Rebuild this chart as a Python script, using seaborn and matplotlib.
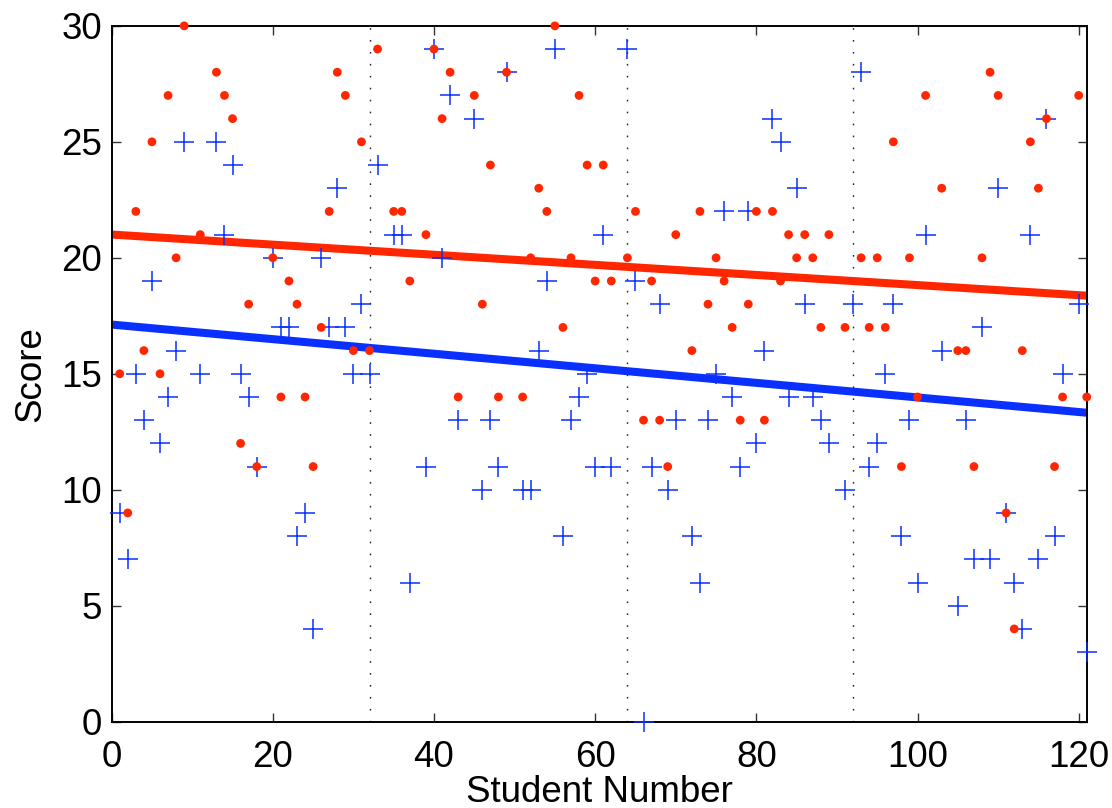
import numpy as np
import pandas as pd
import matplotlib
matplotlib.use("Agg")
import matplotlib.pyplot as plt
import seaborn as sns

# Student numbers and the two scores for each student (None = no score recorded)
students = np.arange(1, 122)

scores_red = [
    15, 9, 22, 16, 25, 15, 27, 20, 30, None, 21, None, 28, 27, 26, 12, 18, 11, None, 20,
    14, 19, 18, 14, 11, 17, 22, 28, 27, 16, 25, 16, 29, None, 22, 22, 19, None, 21, 29,
    26, 28, 14, None, 27, 18, 24, 14, 28, None, 14, 20, 23, 22, 30, 17, 20, 27, 24, 19,
    24, 19, None, 20, 22, 13, 19, 13, 11, 21, None, 16, 22, 18, 20, 19, 17, 13, 18, 22,
    13, 22, 19, 21, 20, 21, 20, 17, 21, None, 17, None, 20, 17, 20, 17, 25, 11, 20, 14,
    27, None, 23, None, 16, 16, 11, 20, 28, 27, 9, 4, 16, 25, 23, 26, 11, 14, None, 27,
    14,
]

scores_blue = [
    9, 7, 15, 13, 19, 12, 14, 16, 25, None, 15, None, 25, 21, 24, 15, 14, 11, None, 20,
    17, 17, 8, 9, 4, 20, 17, 23, 17, 15, 18, 15, 24, None, 21, 21, 6, None, 11, 29,
    20, 27, 13, None, 26, 10, 13, 11, 28, None, 10, 10, 16, 19, 29, 8, 13, 14, 15, 11,
    21, 11, None, 29, 19, 0, 11, 18, 10, 13, None, 8, 6, 13, 15, 22, 14, 11, 22, 12,
    16, 26, 25, 14, 23, 18, 14, 13, 12, None, 10, 18, 28, 11, 12, 15, 18, 8, 13, 6,
    21, None, 16, None, 5, 13, 7, 17, 7, 23, 9, 6, 4, 21, 7, 26, 8, 15, None, 18,
    3,
]

# Section boundaries between groups of students
section_breaks = [32, 64, 92]

x_ticks = [0, 20, 40, 60, 80, 100, 120]
y_ticks = [0, 5, 10, 15, 20, 25, 30]

df = pd.DataFrame({
    "student": students,
    "red": pd.to_numeric(pd.Series(scores_red), errors="coerce"),
    "blue": pd.to_numeric(pd.Series(scores_blue), errors="coerce"),
})

RED = "#ff2600"
BLUE = "#0a30ff"

sns.set_style("ticks")
plt.rcParams["font.family"] = ["Liberation Sans", "DejaVu Sans"]
plt.rcParams["font.size"] = 26.5
plt.rcParams["text.color"] = "black"
plt.rcParams["axes.labelcolor"] = "black"
plt.rcParams["xtick.color"] = "black"
plt.rcParams["ytick.color"] = "black"

fig = plt.figure(figsize=(11.12, 8.08), dpi=100)
ax = fig.add_axes([0.1004, 0.1068, 0.9773 - 0.1004, 0.968 - 0.1068])
ax.set_xlim(0, 121)
ax.set_ylim(0, 30)

# Least-squares trend lines across the full range of students
sns.regplot(data=df, x="student", y="red", scatter=False, ci=None, truncate=False,
            ax=ax, color=RED, line_kws=dict(lw=5.8, zorder=2, solid_capstyle="butt"))
sns.regplot(data=df, x="student", y="blue", scatter=False, ci=None, truncate=False,
            ax=ax, color=BLUE, line_kws=dict(lw=5.8, zorder=2, solid_capstyle="butt"))

for xb in section_breaks:
    ax.axvline(xb, color="#222222", lw=1.0, linestyle=(0, (1.2, 7.4)), zorder=1)

sns.scatterplot(data=df, x="student", y="blue", marker="+", s=225, color=BLUE,
                linewidth=1.1, ax=ax, zorder=3, clip_on=False)
sns.scatterplot(data=df, x="student", y="red", marker="o", s=40, color=RED,
                edgecolor="none", linewidth=0, ax=ax, zorder=4, clip_on=False)

ax.set_xlim(0, 121)
ax.set_ylim(0, 30)
ax.set_xticks(x_ticks)
ax.set_yticks(y_ticks)
ax.set_xlabel("Student Number", fontsize=26.5, labelpad=0, color="black")
ax.set_ylabel("Score", fontsize=26.5, labelpad=9, color="black")

for side in ["top", "right", "bottom", "left"]:
    ax.spines[side].set_visible(True)
    ax.spines[side].set_color("black")
    ax.spines[side].set_linewidth(1.4)

ax.tick_params(axis="both", which="major", direction="in", length=6.5, width=1.0,
               color="#333333", labelcolor="black", labelsize=26.5, top=True, right=True)
ax.tick_params(axis="x", pad=13)
ax.tick_params(axis="y", pad=7)

fig.savefig("out.png", dpi=100)
